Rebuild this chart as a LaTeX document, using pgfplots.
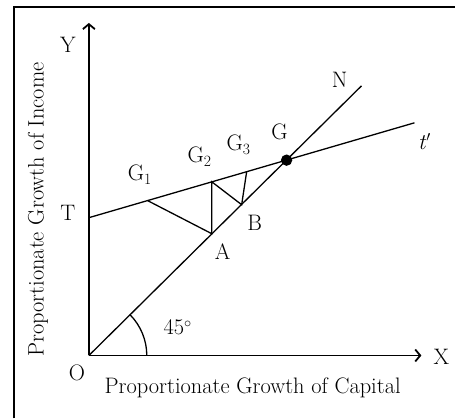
\documentclass[border=0pt]{standalone}
\usepackage{pgfplots}
\pgfplotsset{compat=1.18}
\usetikzlibrary{arrows.meta}
\begin{document}
\begin{tikzpicture}[font=\fontsize{22.5}{26}\selectfont]
\begin{axis}[
  scale only axis, width=456bp, height=419bp,
  xmin=-89, xmax=367, ymin=-63, ymax=356,
  hide axis, clip=false,
  cycle list={{black, solid, mark=none}},
  every axis plot post/.append style={line width=1.3bp},
]
\path (rel axis cs:0,0) rectangle (rel axis cs:1,1);
% frame
\addplot coordinates {(-75,-63) (-75,349) (367,349)};
% axes
\addplot+[-{Straight Barb[length=5bp,width=12bp,line width=1.8bp]}] coordinates {(0,0) (0,333)};
\addplot+[-{Straight Barb[length=5bp,width=12bp,line width=1.8bp]}] coordinates {(0,0) (333,0)};
% T line
\addplot coordinates {(0,138) (326,233)};
% 45 degree line
\addplot coordinates {(0,0) (273,270)};
% zigzag
\addplot coordinates {(59,155) (123,122) (123,174) (153,151) (158,184)};
% G point
\addplot+[only marks, mark=*, mark size=5bp] coordinates {(198,195.6)};
% angle arc
\draw[line width=1.3bp] (axis cs:58,0) arc[start angle=0, end angle=45, radius=58bp];
% labels
\node at (axis cs:-21,311) {Y};
\node at (axis cs:251,276) {N};
\node at (axis cs:191,224) {G};
\node at (axis cs:336,214) {\textit{t}$'$};
\node at (axis cs:150,211) {G\textsubscript{3}};
\node at (axis cs:111,199) {G\textsubscript{2}};
\node at (axis cs:51,181) {G\textsubscript{1}};
\node at (axis cs:-21,143) {T};
\node at (axis cs:166,133) {B};
\node at (axis cs:134,104) {A};
\node at (axis cs:89,28) {45\textsuperscript{$\circ$}};
\node at (axis cs:-12,-17) {O};
\node at (axis cs:353,-1) {X};
\node at (axis cs:164,-32) {Proportionate Growth of Capital};
\node[rotate=90] at (axis cs:-51,146) {Proportionate Growth of Income};
\end{axis}
\end{tikzpicture}
\end{document}
